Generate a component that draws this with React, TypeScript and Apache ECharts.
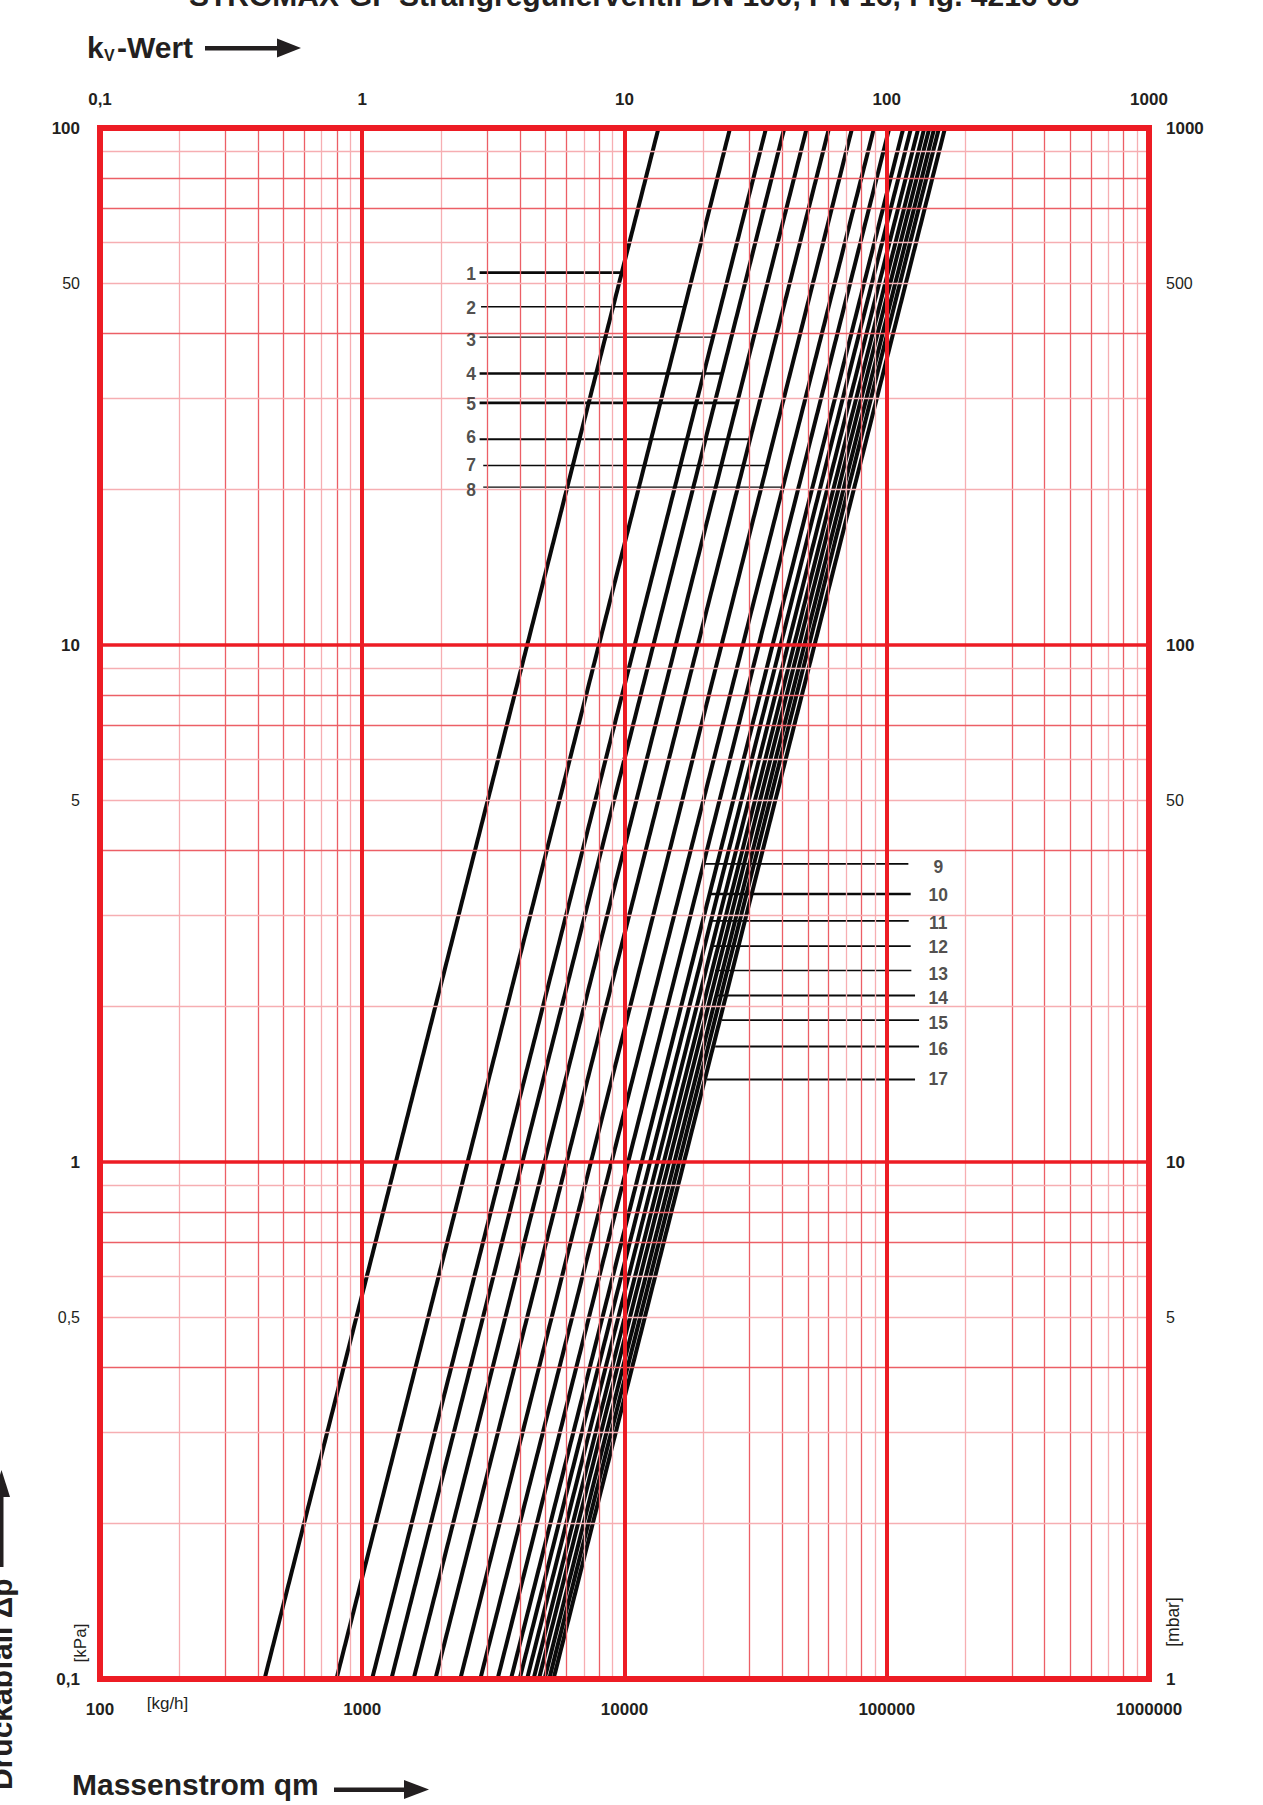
import { useEffect, useRef } from "react";
import * as echarts from "echarts";

// tick labels
const KV_TICKS = [0.1, 1, 10, 100, 1000];
const MASS_TICKS = [100, 1000, 10000, 100000, 1000000];
const KPA_TICKS = [0.1, 0.5, 1, 5, 10, 50, 100];
const MBAR_TICKS = [1, 5, 10, 50, 100, 500, 1000];

// grid
const MANTISSAS = [2, 3, 4, 5, 6, 7, 8, 9];
const X_DECADES = [100, 1000, 10000, 100000];
const Y_DECADES = [0.1, 1, 10];
const X_MAJOR = [1000, 10000, 100000];
const Y_MAJOR = [1, 10];
const X_DARK = [3, 4, 5, 6, 8];
const Y_DARK = [4, 7, 8];

// curves (mass flow in kg/h where each line meets 0,1 kPa and 100 kPa)
const CURVE_IDS = ["1", "2", "3", "4", "5", "6", "7", "8", "9", "10", "11", "12", "13", "14", "15", "16", "17"];
const QM_AT_0_1_KPA = [424, 797, 1090, 1291, 1570, 1900, 2365, 2819, 3281, 3690, 3981, 4250, 4500, 4718, 4955, 5164, 5362];
const QM_AT_100_KPA = [13480, 25270, 34670, 40700, 49550, 60260, 73780, 89450, 102300, 115700, 123800, 132000, 139100, 145300, 151800, 158200, 166800];

// number leaders
const LEADER_DP = [52.5, 45.1, 39.4, 33.5, 29.4, 25.0, 22.25, 20.2, 3.772, 3.3, 2.927, 2.616, 2.346, 2.099, 1.881, 1.673, 1.444];
const LEADER_FROM = [2802, 2838, 2802, 2802, 2802, 2802, 2893, 2893, 20300, 20900, 21530, 21840, 22170, 22500, 23500, 22170, 20600];
const LEADER_TO = [9630, 16700, 21530, 23710, 26660, 29950, 34670, 39800, 120900, 123400, 121300, 123400, 124100, 128200, 132800, 132800, 128200];
const LABEL_QM = [2600, 2600, 2600, 2600, 2600, 2600, 2600, 2600, 157300, 157300, 157300, 157300, 157300, 157300, 157300, 157300, 157300];
const LABEL_DP = [52.3, 44.8, 38.9, 33.4, 29.3, 25.2, 22.3, 19.9, 3.727, 3.282, 2.905, 2.6, 2.308, 2.075, 1.856, 1.656, 1.446];

const LEADER_WIDTHS = [2.7, 1.4, 1.4, 2.5, 2.7, 1.8, 1.4, 1.4, 1.7, 2.6, 1.6, 1.6, 1.6, 2.0, 1.6, 2.0, 2.0];

const RED = "#ed1c24";
const INK = "#231f20";
const SANS = "'Liberation Sans', Arial, sans-serif";

function fmt(v: number) {
  return String(Number(v.toPrecision(6))).replace(".", ",");
}

function isDecade(v: number) {
  const l = Math.log10(v);
  return Math.abs(l - Math.round(l)) < 1e-6;
}

const labelRich = {
  b: { fontSize: 17, fontWeight: "bold", color: INK, fontFamily: SANS },
  n: { fontSize: 16, fontWeight: "normal", color: INK, fontFamily: SANS },
};

function logAxis(min: number, max: number, position: string, ticks: number[], margin: number) {
  return {
    type: "log",
    logBase: 10,
    min,
    max,
    position,
    z: 6,
    axisLine: { show: true, onZero: false, lineStyle: { color: RED, width: 6 } },
    axisTick: { show: true, length: 3, customValues: ticks.filter(isDecade), lineStyle: { color: RED, width: 6 } },
    splitLine: { show: false },
    minorTick: { show: false },
    axisLabel: {
      customValues: ticks,
      margin,
      showMinLabel: true,
      showMaxLabel: true,
      hideOverlap: false,
      formatter: (v: number) => (isDecade(v) ? `{b|${fmt(v)}}` : `{n|${fmt(v)}}`),
      rich: labelRich,
    },
  };
}

export default function App() {
  const ref = useRef<HTMLDivElement | null>(null);

  useEffect(() => {
    if (!ref.current) return;
    const chart = echarts.init(ref.current, undefined, { renderer: "svg" });

    const gridStyle = (isDark: boolean) =>
      isDark ? { color: "#ec5f66", width: 1.3, type: "solid" } : { color: "#f6aeb2", width: 1.3, type: "solid" };
    const minorX = X_DECADES.flatMap((d) => MANTISSAS.map((m) => ({
      xAxis: d * m,
      lineStyle: gridStyle(X_DARK.includes(m)),
    })));
    const minorY = Y_DECADES.flatMap((d) => MANTISSAS.map((m) => ({
      yAxis: Number((d * m).toPrecision(6)),
      lineStyle: gridStyle(Y_DARK.includes(m)),
    })));
    const majorLines = [
      ...X_MAJOR.map((v) => ({ xAxis: v, lineStyle: { color: RED, width: 4, type: "solid" } })),
      ...Y_MAJOR.map((v) => ({ yAxis: v, lineStyle: { color: RED, width: 3.5, type: "solid" } })),
    ];

    const curveSeries = CURVE_IDS.map((id, i) => ({
      name: `Kurve ${id}`,
      type: "line",
      xAxisIndex: 0,
      yAxisIndex: 0,
      data: [[QM_AT_0_1_KPA[i], 0.1], [QM_AT_100_KPA[i], 100]],
      symbol: "none",
      silent: true,
      z: 3,
      lineStyle: { color: "#0a0a0a", width: 4 },
    }));

    const leaderSeries = CURVE_IDS.map((id, i) => ({
      name: `Zeiger ${id}`,
      type: "line",
      xAxisIndex: 0,
      yAxisIndex: 0,
      data: [[LEADER_FROM[i], LEADER_DP[i]], [LEADER_TO[i], LEADER_DP[i]]],
      symbol: "none",
      silent: true,
      z: 4,
      lineStyle: { color: "#0a0a0a", width: LEADER_WIDTHS[i] },
    }));

    chart.setOption({
      animation: false,
      backgroundColor: "#ffffff",
      grid: { left: 100, top: 128, width: 1049, height: 1551, containLabel: false, outerBoundsMode: "none" },
      xAxis: [
        logAxis(100, 1000000, "bottom", MASS_TICKS, 22),
        logAxis(0.1, 1000, "top", KV_TICKS, 20),
      ],
      yAxis: [
        logAxis(0.1, 100, "left", KPA_TICKS, 20),
        logAxis(1, 1000, "right", MBAR_TICKS, 17),
      ],
      series: [
        {
          name: "Raster",
          type: "line",
          data: [],
          z: 1,
          silent: true,
          markLine: {
            silent: true,
            symbol: ["none", "none"],
            label: { show: false },
            lineStyle: { type: "solid" },
            data: [...minorX, ...minorY, ...majorLines],
          },
        },
        ...curveSeries,
        ...leaderSeries,
        {
          name: "Nummern",
          type: "scatter",
          xAxisIndex: 0,
          yAxisIndex: 0,
          z: 5,
          silent: true,
          symbolSize: 1,
          itemStyle: { color: "rgba(0,0,0,0)" },
          data: CURVE_IDS.map((id, i) => ({ name: id, value: [LABEL_QM[i], LABEL_DP[i]] })),
          label: {
            show: true,
            position: "inside",
            formatter: "{b}",
            color: INK,
            fontFamily: SANS,
            fontWeight: "bold",
            fontSize: 17.5,
          },
        },
      ],
      graphic: [
        {
          type: "text",
          x: 189,
          y: -4.5,
          style: { text: "STROMAX-GF Strangregulierventil DN 100, PN 16, Fig. 4216 08", fill: INK, font: `bold 30px ${SANS}`, textAlign: "left", textVerticalAlign: "middle" },
        },
        { type: "text", x: 87, y: 47, style: { text: "k", fill: INK, font: `bold 30px ${SANS}`, textAlign: "left", textVerticalAlign: "middle" } },
        { type: "text", x: 104, y: 55.5, style: { text: "V", fill: INK, font: `bold 16px ${SANS}`, textAlign: "left", textVerticalAlign: "middle" } },
        { type: "text", x: 117, y: 47, style: { text: "-Wert", fill: INK, font: `bold 30px ${SANS}`, textAlign: "left", textVerticalAlign: "middle" } },
        { type: "rect", shape: { x: 205, y: 46, width: 75, height: 4.5 }, style: { fill: INK } },
        { type: "polygon", shape: { points: [[277, 38.5], [301, 48], [277, 57.5]] }, style: { fill: INK } },
        { type: "text", x: 72, y: 1784.5, style: { text: "Massenstrom qm", fill: INK, font: `bold 30px ${SANS}`, textAlign: "left", textVerticalAlign: "middle" } },
        { type: "rect", shape: { x: 334, y: 1787.5, width: 73, height: 4.5 }, style: { fill: INK } },
        { type: "polygon", shape: { points: [[404, 1780], [429, 1789.5], [404, 1799]] }, style: { fill: INK } },
        { type: "text", x: 1.5, y: 1790, rotation: Math.PI / 2, style: { text: "Druckabfall Δp", fill: INK, font: `bold 30px ${SANS}`, textAlign: "left", textVerticalAlign: "middle" } },
        { type: "rect", shape: { x: -0.5, y: 1494, width: 4, height: 73 }, style: { fill: INK } },
        { type: "polygon", shape: { points: [[-7, 1497], [10, 1497], [1.5, 1470]] }, style: { fill: INK } },
        { type: "text", x: 80, y: 1643, rotation: Math.PI / 2, style: { text: "[kPa]", fill: INK, font: `17px ${SANS}`, textAlign: "center", textVerticalAlign: "middle" } },
        { type: "text", x: 1172.5, y: 1622, rotation: Math.PI / 2, style: { text: "[mbar]", fill: INK, font: `17.5px ${SANS}`, textAlign: "center", textVerticalAlign: "middle" } },
        { type: "text", x: 167.5, y: 1703, style: { text: "[kg/h]", fill: INK, font: `17px ${SANS}`, textAlign: "center", textVerticalAlign: "middle" } },
      ],
    });

    return () => {
      chart.dispose();
    };
  }, []);

  return <div ref={ref} style={{ position: "absolute", left: 0, top: 0, width: 1263, height: 1805, background: "#fff" }} />;
}
